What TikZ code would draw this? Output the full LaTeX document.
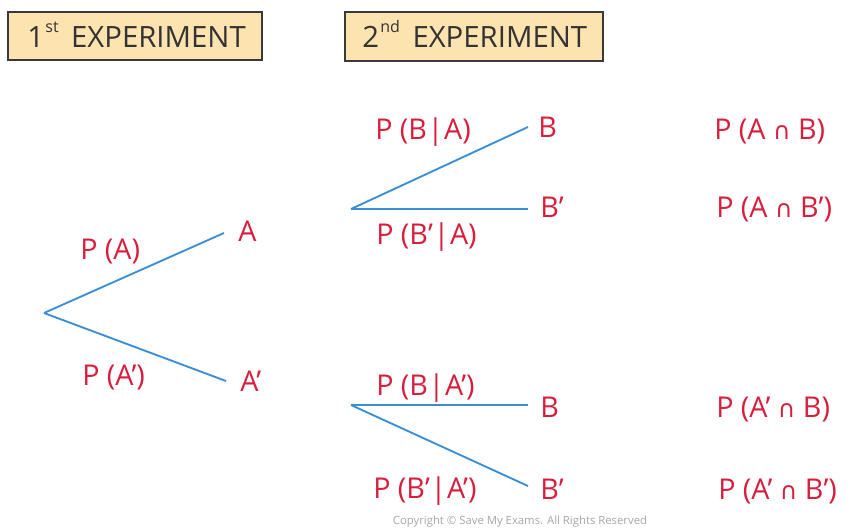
\documentclass[tikz,border=0pt]{standalone}
\usepackage{fontspec}
\setmainfont{Open Sans}
\newfontfamily\symf{DejaVu Sans}
\definecolor{lab}{HTML}{D81E3C}
\definecolor{ln}{HTML}{3A8ED4}
\definecolor{boxfill}{HTML}{FCE3B0}
\definecolor{boxline}{HTML}{3A3A3A}
\newcommand{\capsym}{{\symf\fontsize{18}{20}\selectfont ∩}}
\newcommand{\gbar}{\kern0.5pt|\kern0.5pt}
\begin{document}
\begin{tikzpicture}[x=0.75pt,y=-0.75pt,
  lbl/.style={text=lab, font=\fontsize{21.5}{26}\selectfont, inner sep=0pt, anchor=base west},
  branch/.style={draw=ln, line width=1.4pt},
  hdr/.style={draw=boxline, fill=boxfill, line width=1.1pt, inner sep=0pt},
  hdrtext/.style={text=black!80, font=\fontsize{22}{26}\selectfont, inner sep=0pt, anchor=base west}]
\useasboundingbox (0,0) rectangle (857,529);
% headers
\node[hdr, minimum width=190.5pt, minimum height=36pt] (h1) at (135,36) {};
\node[hdr, minimum width=193.5pt, minimum height=36.75pt] (h2) at (474,36.5) {};
\node[hdrtext] (h1t) at (27,47) {1\kern1pt\raisebox{0.48em}{\fontsize{12}{14}\selectfont st}\, EXPERIMENT};
\node[hdrtext] (h2t) at (362,47) {2\kern1pt\raisebox{0.48em}{\fontsize{12}{14}\selectfont nd}\, EXPERIMENT};
% first stage
\coordinate (r0) at (44,313);
\coordinate (eA) at (224,233);
\coordinate (eAc) at (226,381);
\draw[branch] (r0) -- (eA);
\draw[branch] (r0) -- (eAc);
\node[lbl] (A) at (238,241) {A};
\node[lbl] (Ac) at (240,391) {A’};
\node[lbl] (pA) at (80,259) {P (A)};
\node[lbl] (pAc) at (82,385) {P (A’)};
% second stage top
\coordinate (r1) at (351,209);
\coordinate (e1) at (528,127);
\coordinate (e2) at (528,209);
\draw[branch] (r1) -- (e1);
\draw[branch] (r1) -- (e2);
\node[lbl] (B1) at (538,137) {B};
\node[lbl] (B1c) at (540,217) {B’};
\node[lbl] (pBA) at (375,139) {P (B\gbar A)};
\node[lbl] (pBcA) at (376,244) {P (B’\gbar A)};
% second stage bottom
\coordinate (r2) at (351,405);
\coordinate (e3) at (528,405);
\coordinate (e4) at (528,486);
\draw[branch] (r2) -- (e3);
\draw[branch] (r2) -- (e4);
\node[lbl] (B2) at (540,417) {B};
\node[lbl] (B2c) at (540,499) {B’};
\node[lbl] (pBAc) at (376,395) {P (B\gbar A’)};
\node[lbl] (pBcAc) at (373,498) {P (B’\gbar A’)};
% outcomes
\node[lbl] (o1) at (714,139) {P (A \capsym{} B)};
\node[lbl] (o2) at (716,217) {P (A \capsym{} B’)};
\node[lbl] (o3) at (716,417) {P (A’ \capsym{} B)};
\node[lbl] (o4) at (718,499) {P (A’ \capsym{} B’)};
% copyright
\node[text=black!35, font=\fontsize{8.5}{10}\selectfont, inner sep=0pt, anchor=base] (cp) at (520,524.5) {Copyright © Save My Exams. All Rights Reserved};
\end{tikzpicture}
\end{document}
